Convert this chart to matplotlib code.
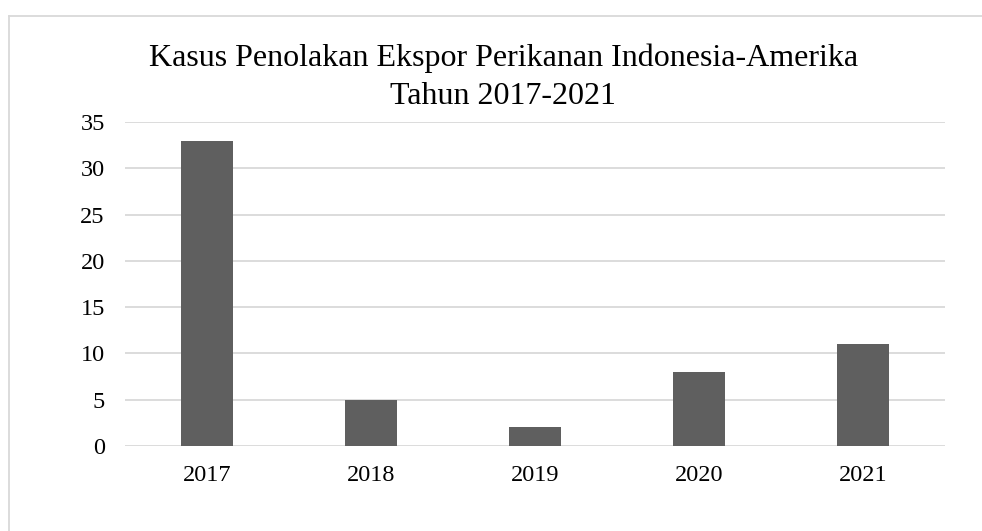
import matplotlib.pyplot as plt
from matplotlib.lines import Line2D

years = ["2017", "2018", "2019", "2020", "2021"]
kasus = [33, 5, 2, 8, 11]
y_ticks = [0, 5, 10, 15, 20, 25, 30, 35]

plt.rcParams['font.family'] = ['Liberation Serif', 'DejaVu Serif']

fig = plt.figure(figsize=(9.82, 5.31), dpi=100)
ax = fig.add_axes([125/982, 1 - 446/531, 820/982, 324/531])

x = range(len(years))
ax.bar(x, kasus, width=0.32, color='#5f5f5f', zorder=3)
ax.set_xlim(-0.5, len(years) - 0.5)
ax.set_ylim(0, 35)
ax.set_yticks(y_ticks)
ax.set_xticks(list(x))
ax.set_xticklabels(years)

ax.grid(axis='y', color='#d9d9d9', linewidth=1.3, zorder=0)
for s in ax.spines.values():
    s.set_visible(False)
ax.tick_params(axis='both', length=0, labelsize=17.5, colors='black')
ax.tick_params(axis='y', pad=14.5)
ax.tick_params(axis='x', pad=13.5)

fig.text(504/982, 1 - 58/531, "Kasus Penolakan Ekspor Perikanan Indonesia-Amerika",
         ha='center', va='center', fontsize=23)
fig.text(503/982, 1 - 96/531, "Tahun 2017-2021", ha='center', va='center', fontsize=23)

# chart frame (only top and left edges visible in the crop)
fig.add_artist(Line2D([9/982, 1], [1 - 16/531, 1 - 16/531], color='#d9d9d9', linewidth=1.3))
fig.add_artist(Line2D([9/982, 9/982], [0, 1 - 16/531], color='#d9d9d9', linewidth=1.3))

fig.savefig('out.png', dpi=100)
